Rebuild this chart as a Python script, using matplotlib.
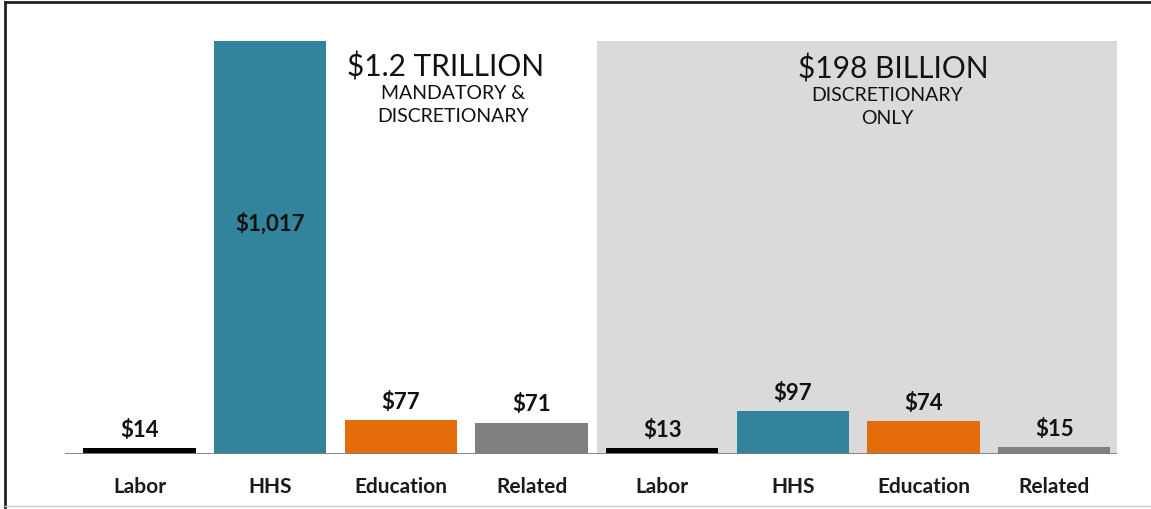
import matplotlib.pyplot as plt
from matplotlib.lines import Line2D

categories = ["Labor", "HHS", "Education", "Related"]
total_values = [14, 1017, 77, 71]          # $1.2 trillion, mandatory & discretionary
discretionary_values = [13, 97, 74, 15]    # $198 billion, discretionary only
value_labels = ["$14", "$1,017", "$77", "$71", "$13", "$97", "$74", "$15"]
bar_colors = ["#000000", "#31849b", "#e46c0a", "#808080"]

plt.rcParams["font.family"] = ["Lato", "DejaVu Sans"]

fig = plt.figure(figsize=(11.51, 5.10), dpi=100)
ax = fig.add_axes([65 / 1151, 55 / 510, (1117 - 65) / 1151, (455 - 42) / 510])

values = total_values + discretionary_values
colors = bar_colors + bar_colors
x = list(range(len(values)))
ymax = 940

# fond gris du bloc discrétionnaire
ax.axvspan(3.5, 7.6, color="#dadada", zorder=0, lw=0)

bars = ax.bar(x, values, width=0.86, color=colors, zorder=2)

for i, (b, lab) in enumerate(zip(bars, value_labels)):
    h = b.get_height()
    if h > ymax:
        ax.text(b.get_x() + b.get_width() / 2, ymax * 0.56, lab, ha="center", va="center",
                fontsize=16, fontweight="bold", color="#111111", zorder=3)
    else:
        ax.annotate(lab, (b.get_x() + b.get_width() / 2, h), xytext=(0, 6),
                    textcoords="offset points", ha="center", va="bottom",
                    fontsize=16, fontweight="bold", color="#111111", zorder=3)

ax.axhline(0, color="#7f7f7f", lw=2, zorder=4)
ax.set_xlim(-0.57, 7.48)
ax.set_ylim(0, ymax)
ax.set_xticks(x)
ax.set_xticklabels(categories + categories, fontsize=15, fontweight="bold", color="#1a1a1a")
ax.tick_params(axis="x", length=0, pad=16)
ax.set_yticks([])
for s in ax.spines.values():
    s.set_visible(False)
ax.patch.set_alpha(0)

# titres des deux blocs
ax.text(2.34, 0.94, "$1.2 TRILLION", transform=ax.get_xaxis_transform(), ha="center",
        va="center", fontsize=21.5, color="#111111")
ax.text(2.4, 0.895, "MANDATORY &\nDISCRETIONARY", transform=ax.get_xaxis_transform(),
        ha="center", va="top", fontsize=14, color="#111111", linespacing=1.4)
ax.text(5.77, 0.935, "$198 BILLION", transform=ax.get_xaxis_transform(), ha="center",
        va="center", fontsize=21.5, color="#111111")
ax.text(5.72, 0.89, "DISCRETIONARY\nONLY", transform=ax.get_xaxis_transform(),
        ha="center", va="top", fontsize=14, color="#111111", linespacing=1.4)

# cadre
fig.add_artist(Line2D([5 / 1151, 5 / 1151], [2 / 510, 507 / 510], color="#222222", lw=2))
fig.add_artist(Line2D([5 / 1151, 1], [507 / 510, 507 / 510], color="#222222", lw=2))
fig.add_artist(Line2D([5 / 1151, 1], [3 / 510, 3 / 510], color="#cccccc", lw=1))

fig.savefig("out.png", dpi=100)
